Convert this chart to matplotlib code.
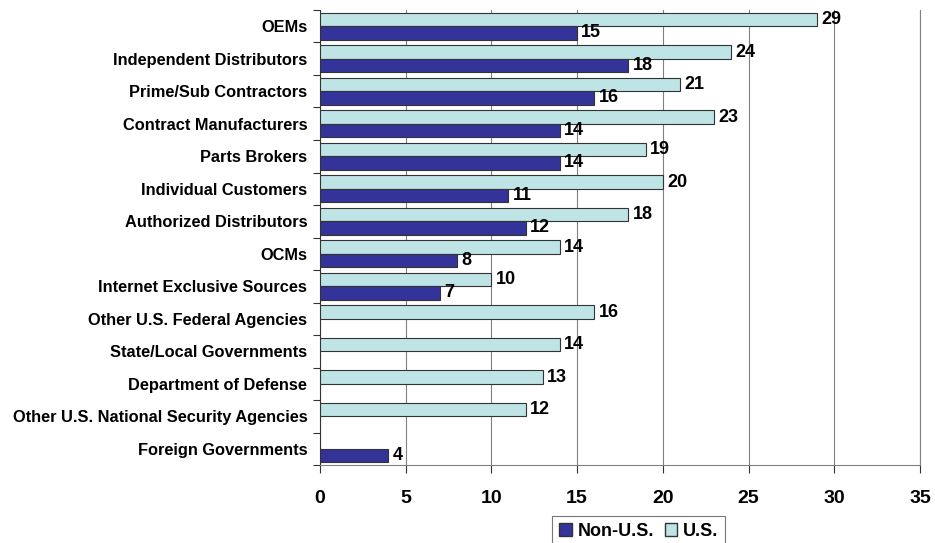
import numpy as np
import matplotlib.pyplot as plt
from matplotlib.patches import Patch

plt.rcParams['font.family'] = ['Liberation Sans', 'DejaVu Sans']
plt.rcParams['font.weight'] = 'bold'

categories = ['OEMs', 'Independent Distributors', 'Prime/Sub Contractors',
              'Contract Manufacturers', 'Parts Brokers', 'Individual Customers',
              'Authorized Distributors', 'OCMs', 'Internet Exclusive Sources',
              'Other U.S. Federal Agencies', 'State/Local Governments',
              'Department of Defense', 'Other U.S. National Security Agencies',
              'Foreign Governments']
us_vals = [29, 24, 21, 23, 19, 20, 18, 14, 10, 16, 14, 13, 12, None]
non_us_vals = [15, 18, 16, 14, 14, 11, 12, 8, 7, None, None, None, None, 4]
x_ticks = [0, 5, 10, 15, 20, 25, 30, 35]

us_color = '#BEE4E6'
non_color = '#333399'
grid_color = '#808080'

fig = plt.figure(figsize=(9.35, 5.43), dpi=100)
ax = fig.add_axes([0.342, 0.1436, 0.642, 0.838])

y = np.arange(len(categories))
h = 0.41

# U.S. bars on top, Non-U.S. below
for i, v in enumerate(us_vals):
    if v is None:
        continue
    ax.barh(y[i] - h / 2, v, height=h, color=us_color, edgecolor='#333333', linewidth=0.8, zorder=3)
    ax.text(v + 0.25, y[i] - h / 2, str(v), va='center', ha='left', fontsize=13, fontweight='bold', zorder=4)
for i, v in enumerate(non_us_vals):
    if v is None:
        continue
    ax.barh(y[i] + h / 2, v, height=h, color=non_color, edgecolor='#333333', linewidth=0.8, zorder=3)
    ax.text(v + 0.25, y[i] + h / 2, str(v), va='center', ha='left', fontsize=13, fontweight='bold', zorder=4)

ax.set_xlim(0, 35)
ax.set_ylim(len(categories) - 0.5, -0.5)
ax.set_xticks(x_ticks)
ax.set_xticklabels([str(t) for t in x_ticks], fontsize=14, fontweight='bold')
ax.tick_params(axis='x', length=6, width=0.8, color='#333333', pad=12)

ax.set_yticks(y)
ax.set_yticklabels(categories, fontsize=11.8, fontweight='bold')
ax.tick_params(axis='y', length=0, pad=9)
ax.set_yticks(np.arange(-0.5, len(categories), 1), minor=True)
ax.tick_params(axis='y', which='minor', length=5, width=0.8, color='#333333')

ax.grid(axis='x', color=grid_color, linewidth=0.8, zorder=0)
ax.set_axisbelow(True)
ax.spines['top'].set_visible(False)
ax.spines['right'].set_color(grid_color)
ax.spines['bottom'].set_color(grid_color)
ax.spines['left'].set_color('#333333')

handles = [Patch(facecolor=non_color, edgecolor='#333333', label='Non-U.S.'),
           Patch(facecolor=us_color, edgecolor='#333333', label='U.S.')]
leg = fig.legend(handles=handles, loc='upper center', bbox_to_anchor=(0.683, 0.05), ncol=2,
                 frameon=True, fancybox=False, edgecolor='#555555', fontsize=13,
                 handlelength=0.7, handleheight=0.7, handletextpad=0.3, columnspacing=0.6,
                 borderpad=0.4, borderaxespad=0)
leg.get_frame().set_linewidth(0.8)

fig.savefig('out.png', dpi=100)
